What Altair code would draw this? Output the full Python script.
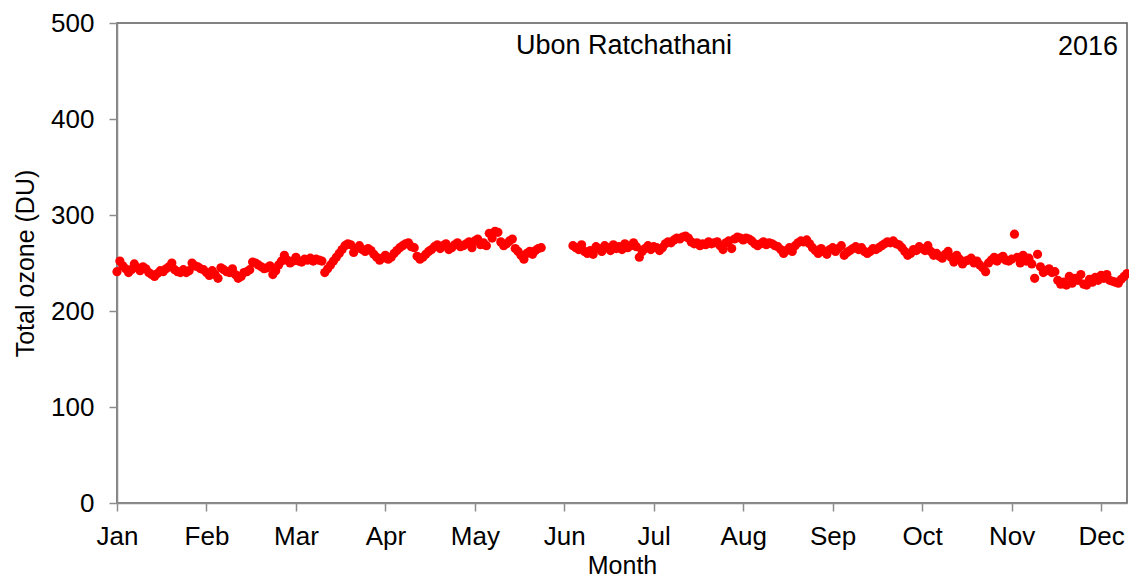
import altair as alt
import pandas as pd

station = "Ubon Ratchathani"
year_label = "2016"
months = ["Jan", "Feb", "Mar", "Apr", "May", "Jun", "Jul", "Aug", "Sep", "Oct", "Nov", "Dec"]
month_ticks = [0, 31, 62, 93, 124, 155, 186, 217, 248, 279, 310, 341]
y_ticks = [0, 100, 200, 300, 400, 500]

# daily total ozone (DU), one value per day index; None = missing
oz_jan = [241, 252, 247, 244, 240, 243, 249, 245, 242, 246, 244,
          240, 238, 236, 239, 242, 241, 244, 246, 250, 243,
          241, 240, 243, 240, 242, 250, 247, 246, 244, 243]
oz_feb = [240, 237, 242, 238, 234, 245, 243, 241, 240, 244,
          238, 234, 236, 240, 241, 243, 251, 250, 248, 246,
          244, 245, 247, 238, 242, 248, 252, 258, 253, 250, 252]
oz_mar = [256, 252, 251, 254, 253, 255, 252, 254, 253,
          252, 240, 244, 248, 252, 256, 260, 264, 268, 270,
          269, 261, 265, 268, 264, 262, 265, 263, 259, 256]
oz_apr = [253, 255, 258, 254, 256, 260, 263, 266, 268, 270,
          271, 267, 266, 257, 254, 256, 259, 262, 264, 267,
          269, 265, 268, 270, 264, 266, 269, 271, 267, 268]
oz_may = [270, 272, 266, 273, 275, 269, 271, 268, 281, 276,
          283, 282, 272, 268, 270, 273, 275, 265, 262, 258,
          254, 260, 262, 259, 263, 265, 266,
          None, None, None, None, None, None, None, None, None, None]
oz_jun = [268, 266, 264, 269, 262, 260, 263, 259, 267, 265,
          262, 268, 266, 263, 269, 265, 267, 264, 270, 266,
          268, 271, 267, 256, 262, 265, 268, 264, 267, 266]
oz_jul = [263, 266, 270, 272, 271, 274, 276, 275, 277, 278,
          276, 272, 270, 271, 268, 270, 269, 272, 270, 271,
          272, 268, 264, 271, 273, 265, 275, 277, 276, 274]
oz_aug = [276, 275, 273, 270, 268, 270, 272, 269, 271, 270,
          268, 267, 264, 260, 263, 266, 262, 268, 271, 273,
          272, 274, 270, 266, 263, 260, 265, 262, 259, 264]
oz_sep = [266, 262, 265, 268, 258, 261, 263, 265, 267, 264,
          266, 262, 260, 262, 265, 264, 266, 268, 270, 272,
          271, 273, 270, 269, 266, 262, 258, 260, 264, 263]
oz_oct = [267, 265, 263, 268, 262, 258, 260, 257, 255, 259,
          262, 256, 251, 258, 254, 249, 252, 253, 255, 250,
          252, 248, 245, 241, 250, 253, 256, 252, 255, 257]
oz_nov = [253, 252, 254, 280, 256, 250, 258, 252,
          255, 249, 234, 259, 246, 240, 242, 244, 240, 241,
          232, 228, 230, 227, 236, 229, 234, 232, 238, 228]
oz_dec = [227, 233, 230, 235, 232, 237, 234, 238, 232, 231,
          230, 229, 233, 236, 239]

ozone = (oz_jan + oz_feb + oz_mar + oz_apr + oz_may + oz_jun + oz_jul
         + oz_aug + oz_sep + oz_oct + oz_nov + oz_dec)

df = pd.DataFrame({"day": list(range(len(ozone))), "ozone": ozone}).dropna()

FONT = "Liberation Sans"
label_expr = "[" + ",".join("'%s'" % m for m in months) + "][round(datum.value/31)]"

W, H = 1010, 480

points = alt.Chart(df).mark_circle(size=85, color="#ff0000", opacity=1).encode(
    x=alt.X("day:Q",
            scale=alt.Scale(domain=[0, 350], nice=False, zero=False),
            axis=alt.Axis(values=month_ticks, labelExpr=label_expr, title="Month",
                          grid=False, tickSize=8, labelPadding=12, labelFlush=False,
                          titleX=W / 2, titleY=62, titleBaseline="middle",
                          labelFontSize=26, titleFontSize=25)),
    y=alt.Y("ozone:Q",
            scale=alt.Scale(domain=[0, 500], nice=False),
            axis=alt.Axis(values=y_ticks, title="Total ozone (DU)", grid=False,
                          tickSize=8, labelPadding=15,
                          titleX=-92, titleY=H / 2, titleAngle=-90,
                          titleAlign="center", titleBaseline="middle",
                          labelFontSize=26, titleFontSize=25)),
)

txt_station = alt.Chart(pd.DataFrame({"t": [station]})).mark_text(
    font=FONT, fontSize=27, color="black", align="center", baseline="middle"
).encode(x=alt.value(507), y=alt.value(23), text="t:N")

txt_year = alt.Chart(pd.DataFrame({"t": [year_label]})).mark_text(
    font=FONT, fontSize=27, color="black", align="right", baseline="middle"
).encode(x=alt.value(W - 9), y=alt.value(24), text="t:N")

chart = alt.layer(points, txt_station, txt_year).properties(
    width=W, height=H,
    autosize="none",
    padding={"left": 109, "top": 15, "right": 2, "bottom": 75},
).configure_view(
    stroke="#595959", strokeWidth=1.5
).configure_axis(
    domainColor="#8c8c8c", domainWidth=1.5, tickColor="#8c8c8c", tickWidth=1.5,
    labelFont=FONT, titleFont=FONT, labelColor="black", titleColor="black",
    titleFontWeight="normal",
)

chart.save("out.html", embed_options={"renderer": "svg", "actions": False})
